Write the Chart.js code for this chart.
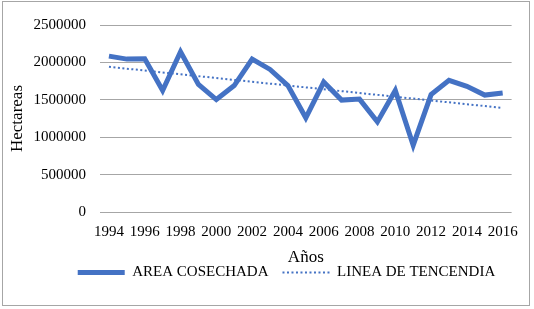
<!DOCTYPE html>
<html>
<head>
<meta charset="utf-8">
<script src="https://cdn.jsdelivr.net/npm/chart.js@4.4.1/dist/chart.umd.min.js"></script>
<style>
  html, body { margin: 0; padding: 0; background: #fff; }
  .chart-box {
    position: absolute; left: 2px; top: 1px;
    width: 526px; height: 303px;
    border: 1px solid #a6a6a6; background: #fff;
  }
</style>
</head>
<body>
<div class="chart-box"><canvas id="chart" width="526" height="303"></canvas></div>
<script>
const years = ['1994','1995','1996','1997','1998','1999','2000','2001','2002','2003','2004',
               '2005','2006','2007','2008','2009','2010','2011','2012','2013','2014','2015','2016'];
const areaCosechada = [2084000, 2044000, 2048000, 1625000, 2142000, 1705000, 1503000, 1690000,
                       2044000, 1906000, 1690000, 1259000, 1737000, 1496000, 1509000, 1205000,
                       1625000, 893000, 1570000, 1760000, 1680000, 1563000, 1590000];
// trend line: only the two end values, joined straight
const lineaTendencia = [1941000, null, null, null, null, null, null, null, null, null, null,
                        null, null, null, null, null, null, null, null, null, null, null, 1391000];
const yTicks = [0, 500000, 1000000, 1500000, 2000000, 2500000];

const blue = '#4472C4';
const serif = 'Liberation Serif, Times New Roman, serif';

Chart.defaults.font.family = serif;
Chart.defaults.color = '#000';

// legend sits tight under the axis title, a bit right of centre
const nudgeLegend = {
    id: 'nudgeLegend',
    afterLayout(chart) {
        chart.legend.left += 56;
        chart.legend.top -= 15;
        chart.legend.bottom -= 15;
    }
};

new Chart(document.getElementById('chart'), {
    type: 'line',
    data: {
        labels: years,
        datasets: [
            {
                label: 'AREA COSECHADA',
                data: areaCosechada,
                borderColor: blue,
                backgroundColor: blue,
                borderWidth: 5,
                pointRadius: 0,
                tension: 0
            },
            {
                label: 'LINEA DE TENCENDIA',
                data: lineaTendencia,
                borderColor: blue,
                backgroundColor: blue,
                borderWidth: 2,
                borderDash: [2, 2.5],
                pointRadius: 0,
                spanGaps: true,
                tension: 0
            }
        ]
    },
    options: {
        responsive: false,
        animation: false,
        layout: { padding: { top: 14, right: 15, bottom: 0, left: 0 } },
        scales: {
            x: {
                offset: true,
                afterFit: (scale) => { scale.height = 54; },
                grid: { display: false, drawTicks: false },
                border: { display: false },
                ticks: {
                    autoSkip: false,
                    maxRotation: 0,
                    padding: 11,
                    font: { size: 15 },
                    callback: (v, i) => (i % 2 === 0 ? years[i] : '')
                },
                title: {
                    display: true,
                    text: 'Años',
                    font: { size: 17, lineHeight: 1 },
                    padding: { top: 0, bottom: 0 }
                }
            },
            y: {
                min: 0,
                max: 2500000,
                afterBuildTicks: (scale) => { scale.ticks = yTicks.map(v => ({ value: v })); },
                afterFit: (scale) => { scale.width = 97; },
                grid: { color: '#a6a6a6', lineWidth: 1, drawTicks: false },
                border: { display: false },
                ticks: {
                    padding: 14,
                    font: { size: 15 },
                    callback: (v) => String(v)
                },
                title: {
                    display: true,
                    text: 'Hectareas',
                    font: { size: 17 },
                    padding: { top: 4, bottom: 4 }
                }
            }
        },
        plugins: {
            legend: {
                position: 'bottom',
                labels: {
                    usePointStyle: true,
                    pointStyle: 'line',
                    pointStyleWidth: 47,
                    padding: 14,
                    font: { size: 15 },
                    generateLabels(chart) {
                        return chart.data.datasets.map((ds, i) => ({
                            text: ds.label,
                            datasetIndex: i,
                            strokeStyle: ds.borderColor,
                            fillStyle: ds.borderColor,
                            lineWidth: ds.borderWidth,
                            lineDash: ds.borderDash || [],
                            pointStyle: 'line',
                            fontColor: '#000',
                            hidden: false
                        }));
                    }
                }
            },
            tooltip: { enabled: false }
        }
    },
    plugins: [nudgeLegend]
});
</script>
</body>
</html>
